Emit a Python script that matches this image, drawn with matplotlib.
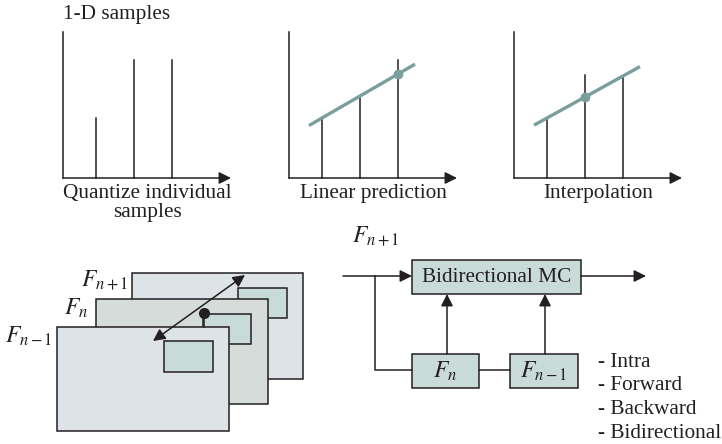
import matplotlib.pyplot as plt
from matplotlib.patches import Rectangle

plt.rcParams['font.family'] = ['Liberation Serif', 'DejaVu Serif']
plt.rcParams['mathtext.fontset'] = 'stix'

# Data: sample heights (pixels above the baseline) for each panel
quant_heights = [60, 118, 118]
linpred_heights = [60, 82, 118]
interp_heights = [60, 103, 102]
panel_titles = ['Quantize individual\nsamples', 'Linear prediction', 'Interpolation']
frame_labels = ['$F_{n+1}$', '$F_n$', '$F_{n-1}$']
mode_list = ['- Intra', '- Forward', '- Backward', '- Bidirectional']

INK = '#231f20'
TEAL = '#7a9e9e'
FRAME_A = '#dde3e6'
FRAME_B = '#d5dcda'
INNER = '#c9dbd8'
LW = 1.1
FS = 15.3

fig = plt.figure(figsize=(7.22, 4.44), dpi=100)
ax = fig.add_axes([0, 0, 1, 1])
ax.set_xlim(0, 722)
ax.set_ylim(444, 0)
ax.axis('off')


def arrow(x0, y0, x1, y1, both=False):
    style = '<|-|>' if both else '-|>'
    ax.annotate('', xy=(x1, y1), xytext=(x0, y0),
                arrowprops=dict(arrowstyle=style, color=INK, lw=LW,
                                mutation_scale=18, shrinkA=0, shrinkB=0))


# ---- top row: 1-D sample panels ----
base_y = 178
axes_x = [63, 289, 514]
arrow_end = [231, 457, 682]
first_off = 33
spacing = 38
all_heights = [quant_heights, linpred_heights, interp_heights]

for i, (ox, hts) in enumerate(zip(axes_x, all_heights)):
    ax.plot([ox, ox], [32, base_y], color=INK, lw=LW)
    arrow(ox, base_y, arrow_end[i], base_y)
    xs = [ox + first_off + k * spacing for k in range(len(hts))]
    for x, h in zip(xs, hts):
        ax.plot([x, x], [base_y, base_y - h], color=INK, lw=LW)
    if i > 0:
        # straight fit through the first samples
        x0, x1 = xs[0] - 13, xs[-1] + 17
        if i == 1:
            sl = (hts[1] - hts[0]) / spacing
            dot = (xs[2], base_y - (hts[0] + sl * 2 * spacing))
        else:
            sl = (hts[2] - hts[0]) / (2 * spacing)
            dot = (xs[1], base_y - (hts[0] + sl * spacing))
        y0 = base_y - (hts[0] - sl * 13)
        y1 = base_y - (hts[0] + sl * (x1 - xs[0]))
        ax.plot([x0, x1], [y0, y1], color=TEAL, lw=2.4, solid_capstyle='butt')
        ax.plot(*dot, 'o', color=TEAL, ms=6)
    cx = (ox + arrow_end[i]) / 2
    ax.text(cx, 184, panel_titles[i], ha='center', va='top', fontsize=FS,
            color=INK, linespacing=1.0)

ax.text(63, 15, '1-D samples', ha='left', va='center', fontsize=FS, color=INK)

# ---- bottom left: stacked frames ----
frames = [  # (x, y, w, h, fill) back to front
    (132, 273, 171, 106, FRAME_A),
    (96, 299, 172, 105, FRAME_B),
    (57, 327, 172, 104, FRAME_A),
]
inners = [(238, 288, 49, 30), (203, 314, 48, 30), (164, 341, 49, 31)]
label_pos = [(128, 280), (88, 308), (52, 336)]

for k in range(3):
    x, y, w, h, c = frames[k]
    ax.add_patch(Rectangle((x, y), w, h, facecolor=c, edgecolor=INK, lw=LW))
    ix, iy, iw, ih = inners[k]
    ax.add_patch(Rectangle((ix, iy), iw, ih, facecolor=INNER, edgecolor=INK, lw=LW))
    lx, ly = label_pos[k]
    ax.text(lx, ly, frame_labels[k], ha='right', va='center', fontsize=17, color=INK)

ax.plot([204, 204], [313, 327], color=INK, lw=LW)
ax.plot(204, 313, 'o', color=INK, ms=7)
arrow(153, 341, 245, 275, both=True)

# ---- bottom right: block diagram ----
def box(x, y, w, h, label, fs):
    ax.add_patch(Rectangle((x, y), w, h, facecolor=INNER, edgecolor=INK, lw=LW))
    ax.text(x + w / 2, y + h / 2, label, ha='center', va='center',
            fontsize=fs, color=INK)

box(412, 260, 169, 34, 'Bidirectional MC', FS)
box(412, 354, 67, 34, frame_labels[1], 17)
box(510, 354, 68, 34, frame_labels[2], 17)

arrow(343, 276, 412, 276)
arrow(581, 276, 646, 276)
ax.plot([375, 375, 412], [276, 370, 370], color=INK, lw=LW)
ax.plot([479, 510], [370, 370], color=INK, lw=LW)
arrow(447, 354, 447, 294)
arrow(545, 354, 545, 294)
ax.text(352, 236, frame_labels[0], ha='left', va='center', fontsize=17, color=INK)

for j, m in enumerate(mode_list):
    ax.text(598, 362 + j * 23.7, m, ha='left', va='center', fontsize=FS, color=INK)

fig.savefig('out.png', dpi=100, facecolor='white')
